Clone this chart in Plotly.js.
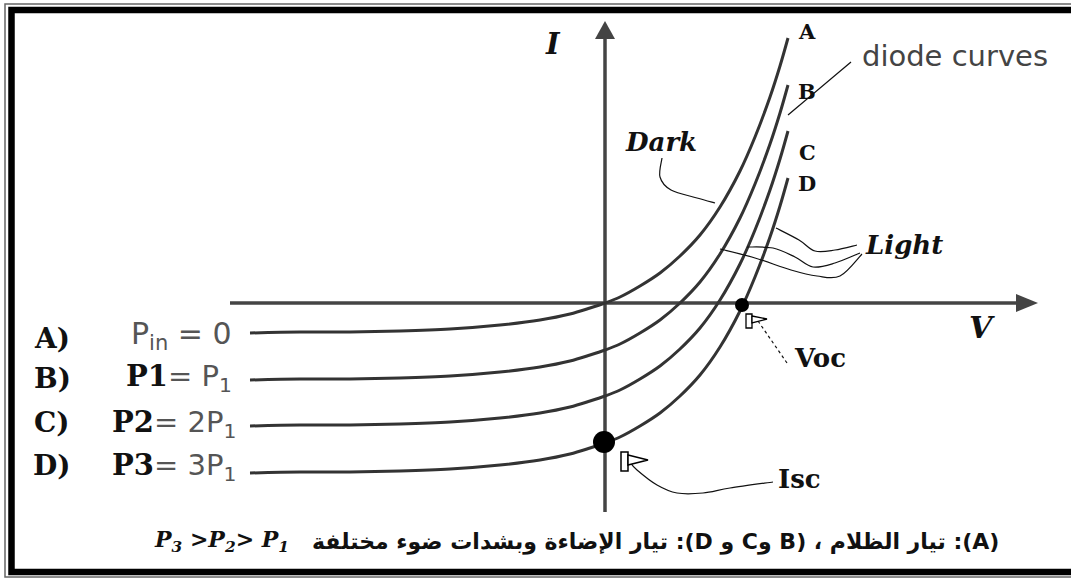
<!DOCTYPE html>
<html><head><meta charset="utf-8">
<script src="https://cdn.plot.ly/plotly-3.0.1.min.js"></script>
<style>html,body{margin:0;padding:0;background:#fff;overflow:hidden}#chart{width:1071px;height:578px}</style>
</head><body><div id="chart"></div>
<script>
// ---- data (arbitrary units, origin at axis crossing) ----
const voltage  = [-3.55,-3.05,-2.55,-2.05,-1.55,-1.05,-0.65,-0.35,-0.15,0,0.15,0.35,0.55,0.75,0.95,1.15,1.35,1.5,1.65,1.75,1.83];
const currentA = [-0.30,-0.29,-0.29,-0.28,-0.26,-0.22,-0.17,-0.11,-0.05,0,0.06,0.17,0.30,0.47,0.68,0.96,1.32,1.66,2.06,2.37,2.65];
const currentB = [-0.77,-0.76,-0.76,-0.75,-0.73,-0.69,-0.64,-0.58,-0.52,-0.47,-0.41,-0.30,-0.17,0.00,0.21,0.49,0.85,1.19,1.59,1.90,2.18];
const currentC = [-1.23,-1.22,-1.22,-1.21,-1.19,-1.15,-1.10,-1.04,-0.98,-0.93,-0.87,-0.76,-0.63,-0.46,-0.25,0.03,0.39,0.73,1.13,1.44,1.72];
const currentD = [-1.70,-1.69,-1.69,-1.68,-1.66,-1.62,-1.57,-1.51,-1.45,-1.40,-1.34,-1.23,-1.10,-0.93,-0.72,-0.44,-0.08,0.26,0.66,0.97,1.25];
const curveNames = ['A','B','C','D'];
const pointV = [1.37, -0.01];   // Voc, Isc
const pointI = [-0.02, -1.39];
const pointSize = [14, 22];
const axisV = [-3.75, 4.33];
const axisI = [-2.09, 2.82];

// ---- layout helpers (pixel -> data, 100 px per unit) ----
const W = 1071, H = 578, OX = 605, OY = 303, S = 100;
const X = px => (px - OX) / S;
const Y = py => (OY - py) / S;
const PX = px => px / W, PY = py => 1 - py / H;

function smooth(pts){
  const p = pts.map(([x,y]) => [X(x), Y(y)]);
  let d = 'M' + p[0][0] + ',' + p[0][1];
  for (let i = 0; i < p.length - 1; i++){
    const p0 = p[i-1] || p[i], p1 = p[i], p2 = p[i+1], p3 = p[i+2] || p2;
    const c1 = [p1[0] + (p2[0]-p0[0])/6, p1[1] + (p2[1]-p0[1])/6];
    const c2 = [p2[0] - (p3[0]-p1[0])/6, p2[1] - (p3[1]-p1[1])/6];
    d += ' C' + c1[0] + ',' + c1[1] + ' ' + c2[0] + ',' + c2[1] + ' ' + p2[0] + ',' + p2[1];
  }
  return d;
}
function poly(pts, close){
  return pts.map(([x,y],i) => (i ? 'L' : 'M') + X(x) + ',' + Y(y)).join(' ') + (close ? ' Z' : '');
}

const curves = [currentA, currentB, currentC, currentD];
const traces = curves.map((c, k) => ({
  x: voltage, y: c, name: curveNames[k], type: 'scatter', mode: 'lines',
  line: {color: '#333', width: 3, shape: 'spline', smoothing: 1}, hoverinfo: 'skip'
}));
traces.push({x: pointV, y: pointI, type: 'scatter', mode: 'markers',
  marker: {color: '#000', size: pointSize, opacity: 1, line: {width: 0}}, hoverinfo: 'skip'});

const thin = {color: '#111', width: 1.2};
const shapes = [
  // frame
  {type:'rect', xref:'paper', yref:'paper', x0:PX(5), x1:PX(1090), y0:PY(4), y1:PY(577), line:{color:'#666', width:1.5}},
  {type:'rect', xref:'paper', yref:'paper', x0:PX(11.5), x1:PX(1095), y0:PY(10), y1:PY(572), line:{color:'#000', width:6.5}},
  // axes
  {type:'line', x0:axisV[0], x1:X(1020), y0:0, y1:0, line:{color:'#444', width:3.5}, layer:'below'},
  {type:'line', x0:0, x1:0, y0:axisI[0], y1:Y(36), line:{color:'#444', width:3.5}, layer:'below'},
  {type:'path', path: 'M' + axisV[1] + ',0 L' + X(1016) + ',' + Y(294) + ' L' + X(1016) + ',' + Y(312) + ' Z', fillcolor:'#444', line:{width:0}},
  {type:'path', path: 'M0,' + axisI[1] + ' L' + X(595) + ',' + Y(39) + ' L' + X(615) + ',' + Y(39) + ' Z', fillcolor:'#444', line:{width:0}},
  // pointers
  {type:'path', path: smooth([[788,115],[851,62]]), line: thin},
  {type:'path', path: smooth([[662,158],[660,177],[671,190],[697,198],[715,203]]), line: thin},
  {type:'path', path: smooth([[776,228],[799,240],[815,251],[835,250],[857,245]]), line: thin},
  {type:'path', path: smooth([[747,247],[773,248],[795,257],[813,267],[835,263],[860,253]]), line: thin},
  {type:'path', path: smooth([[720,249],[755,258],[791,270],[817,276],[840,276],[862,254]]), line: thin},
  {type:'path', path: poly([[787,363],[758,321]]), line: {color:'#111', width:1.2, dash:'dot'}},
  {type:'path', path: smooth([[773,482],[730,488],[703,493],[677,493],[657,485],[637,470],[629,461]]), line: thin},
  // small cursor glyphs
  {type:'path', path: poly([[746,314],[752,314],[752,328],[746,328]], true), fillcolor:'#fff', line:{color:'#000', width:1.3}},
  {type:'path', path: poly([[752,316],[767,319],[752,323]], true), fillcolor:'#fff', line:{color:'#000', width:1.3}},
  {type:'path', path: poly([[621,452],[628,452],[628,471],[621,471]], true), fillcolor:'#fff', line:{color:'#000', width:1.5}},
  {type:'path', path: poly([[628,455],[648,460],[628,465]], true), fillcolor:'#fff', line:{color:'#000', width:1.5}}
];

const serif = (s) => ({family:'DejaVu Serif', size:s, color:'#111'});
const sans = (s, c) => ({family:'DejaVu Sans', size:s, color:c});
const A = (x, y, text, font, extra) => Object.assign({x:X(x), y:Y(y), text, font, showarrow:false, xanchor:'center', yanchor:'middle'}, extra || {});
const B = t => '<b>' + t + '</b>';
const BI = t => '<b><i>' + t + '</i></b>';
const bspan = t => '<span style="font-family:DejaVu Serif;font-weight:bold;color:#111">' + t + '</span>';

const annotations = [
  A(553, 44, BI('I'), serif(29)),
  A(982, 327, BI('V'), serif(30)),
  A(807, 31, B(curveNames[0]), serif(21)),
  A(807, 91, B(curveNames[1]), serif(21)),
  A(807, 152, B(curveNames[2]), serif(21)),
  A(807, 183, B(curveNames[3]), serif(21)),
  A(955, 56, 'diode curves', sans(29, '#444')),
  A(661, 142, BI('Dark'), serif(26)),
  A(904, 245, BI('Light'), serif(26)),
  A(820, 358, B('Voc'), serif(26)),
  A(799, 479, B('Isc'), serif(26)),
  A(52, 338, B('A)'), serif(28)),
  A(52, 378, B('B)'), serif(28)),
  A(52, 422, B('C)'), serif(28)),
  A(52, 465, B('D)'), serif(28)),
  A(234, 335, 'P<sub>in</sub> = 0', sans(30, '#555'), {xanchor:'right'}),
  A(234, 378, bspan('P1') + '= P<sub>1</sub>', sans(29, '#555'), {xanchor:'right'}),
  A(238, 424, bspan('P2') + '= 2P<sub>1</sub>', sans(29, '#555'), {xanchor:'right'}),
  A(238, 467, bspan('P3') + '= 3P<sub>1</sub>', sans(29, '#555'), {xanchor:'right'}),
  A(152, 541, BI('P<sub>3</sub> &gt;P<sub>2</sub>&gt; P<sub>1</sub>'), serif(22), {xanchor:'left'}),
  A(1001, 542, B('\u202B(A): تيار الظلام ، (B وC و D): تيار الإضاءة وبشدات ضوء مختلفة\u202C'), sans(22, '#111'), {xanchor:'right'})
];

const layout = {
  width: W, height: H, margin: {l:0, r:0, t:0, b:0},
  paper_bgcolor: '#fff', plot_bgcolor: '#fff', showlegend: false, hovermode: false,
  xaxis: {range: [X(0), X(W)], visible: false, fixedrange: true},
  yaxis: {range: [Y(H), Y(0)], visible: false, fixedrange: true},
  shapes, annotations
};
Plotly.newPlot('chart', traces, layout, {displayModeBar: false, staticPlot: true});
</script></body></html>
